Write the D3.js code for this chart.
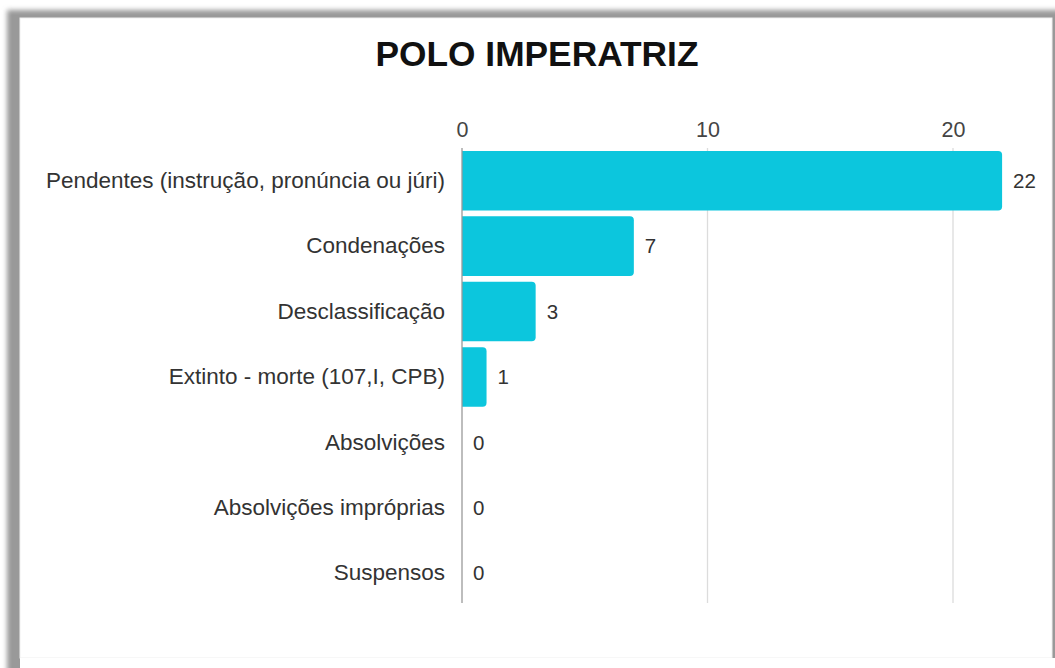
<!DOCTYPE html>
<html>
<head>
<meta charset="utf-8">
<script src="https://cdn.jsdelivr.net/npm/d3@7"></script>
<style>
  html, body { margin: 0; padding: 0; background: #ffffff; }
  svg { display: block; }
</style>
</head>
<body>
<svg id="chart" width="1055" height="668"></svg>
<script>
// Case outcomes for the Imperatriz court district
const title = "POLO IMPERATRIZ";
const categories = [
  "Pendentes (instrução, pronúncia ou júri)",
  "Condenações",
  "Desclassificação",
  "Extinto - morte (107,I, CPB)",
  "Absolvições",
  "Absolvições impróprias",
  "Suspensos"
];
const values = [22, 7, 3, 1, 0, 0, 0];
const tickValues = [0, 10, 20];

const svg = d3.select("#chart");

// Card with a soft drop shadow
const defs = svg.append("defs");
defs.append("filter").attr("id", "shadow")
  .attr("x", "-5%").attr("y", "-5%").attr("width", "110%").attr("height", "110%")
  .append("feGaussianBlur").attr("stdDeviation", 2.5);

svg.append("rect")
  .attr("x", 7).attr("y", 10).attr("width", 1060).attr("height", 700)
  .attr("fill", "#999").attr("filter", "url(#shadow)");
svg.append("rect")
  .attr("x", 20).attr("y", 18).attr("width", 1032).attr("height", 640)
  .attr("fill", "#ffffff").attr("stroke", "#efefef").attr("stroke-width", 1);
svg.append("rect")
  .attr("x", 20).attr("y", 658).attr("width", 1040).attr("height", 20)
  .attr("fill", "#ffffff");

const font = "Liberation Sans, Arial, sans-serif";

// Title
svg.append("text")
  .attr("x", 537).attr("y", 66)
  .attr("text-anchor", "middle")
  .attr("font-family", font)
  .attr("font-weight", "bold")
  .attr("font-size", 35.3)
  .attr("fill", "#111")
  .text(title);

// Scales
const x = d3.scaleLinear().domain([0, 20]).range([462, 953]);
const y = d3.scaleBand().domain(categories).range([148, 606]).paddingInner(0.09).paddingOuter(0.045);

// Vertical grid lines
svg.append("g")
  .selectAll("line")
  .data(tickValues.filter(d => d !== 0))
  .join("line")
  .attr("x1", d => x(d)).attr("x2", d => x(d))
  .attr("y1", 148).attr("y2", 603)
  .attr("stroke", "#dcdcdc").attr("stroke-width", 1.3);

// Top axis tick labels
const axisTop = d3.axisTop(x).tickValues(tickValues).tickSize(0).tickPadding(0);
const gAxis = svg.append("g").attr("transform", "translate(0,137)").call(axisTop);
gAxis.select(".domain").remove();
gAxis.selectAll("text")
  .attr("font-family", font).attr("font-size", 21.5).attr("fill", "#444");

// Bars with rounded right end
const bw = y.bandwidth();
svg.append("g")
  .selectAll("path")
  .data(values.map((v, i) => ({ v, c: categories[i] })).filter(d => d.v > 0))
  .join("path")
  .attr("fill", "#0cc6dd")
  .attr("d", d => {
    const x0 = x(0), x1 = x(d.v), y0 = y(d.c), y1 = y0 + bw, r = 4;
    return `M${x0},${y0}H${x1 - r}Q${x1},${y0} ${x1},${y0 + r}V${y1 - r}Q${x1},${y1} ${x1 - r},${y1}H${x0}Z`;
  });

// Zero baseline
svg.append("line")
  .attr("x1", x(0)).attr("x2", x(0))
  .attr("y1", 148).attr("y2", 603)
  .attr("stroke", "#9a9a9a").attr("stroke-width", 1.3);

// Category labels
const axisLeft = d3.axisLeft(y).tickSize(0).tickPadding(17);
const gLeft = svg.append("g").attr("transform", `translate(${x(0)},0)`).call(axisLeft);
gLeft.select(".domain").remove();
gLeft.selectAll("text")
  .attr("font-family", font).attr("font-size", 22.5).attr("fill", "#333");

// Value labels
svg.append("g")
  .selectAll("text")
  .data(values.map((v, i) => ({ v, c: categories[i] })))
  .join("text")
  .attr("x", d => x(d.v) + 11)
  .attr("y", d => y(d.c) + bw / 2)
  .attr("dy", "0.35em")
  .attr("font-family", font).attr("font-size", 20.5).attr("fill", "#333")
  .text(d => d.v);
</script>
</body>
</html>
